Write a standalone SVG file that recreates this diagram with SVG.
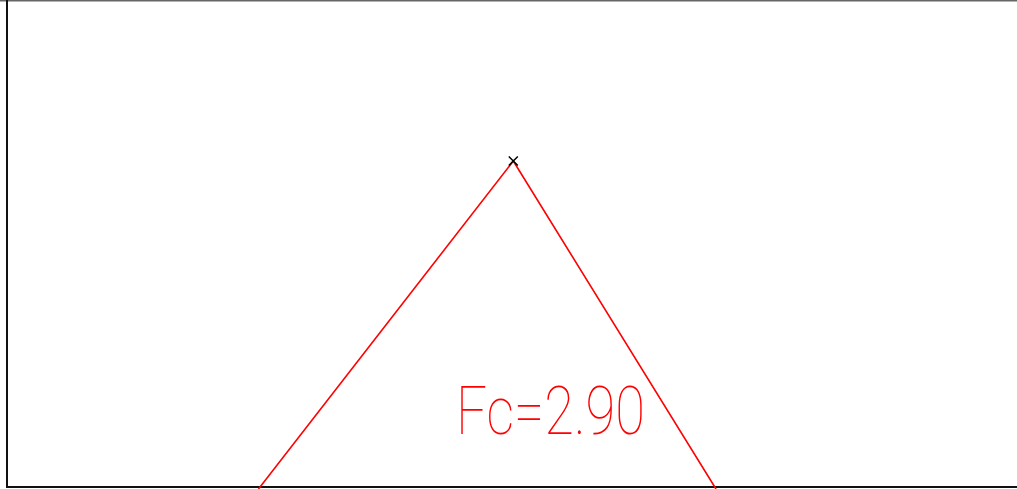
<svg xmlns="http://www.w3.org/2000/svg" width="1017" height="489" viewBox="0 0 1017 489">
<style>
.frame{stroke:#111;stroke-width:2;fill:none}
.red{stroke:#ff0000;stroke-width:1.6;fill:none}
.lbl{font-family:Roboto,Lato,Inter,"Liberation Sans",sans-serif;font-weight:100;font-size:66px;fill:#ff0000}
</style>
<rect width="1017" height="489" fill="#ffffff"/>
<g id="frame">
<line x1="0" y1="0.8" x2="1017" y2="0.8" stroke="#666" stroke-width="1.6"/>
<line class="frame" x1="7" y1="0" x2="7" y2="488"/>
<line class="frame" x1="6" y1="487" x2="1017" y2="487"/>
</g>
<g id="connectors">
<polyline class="red" points="258.5,489 513.3,161 716,489"/>
</g>
<g id="apex">
<path d="M508.8,156.5 L517.8,165.5 M517.8,156.5 L508.8,165.5" stroke="#000" stroke-width="1.5"/>
</g>
<g id="label">
<text class="lbl" x="456" y="434" textLength="189" lengthAdjust="spacingAndGlyphs">Fc=2.90</text>
</g>
</svg>
